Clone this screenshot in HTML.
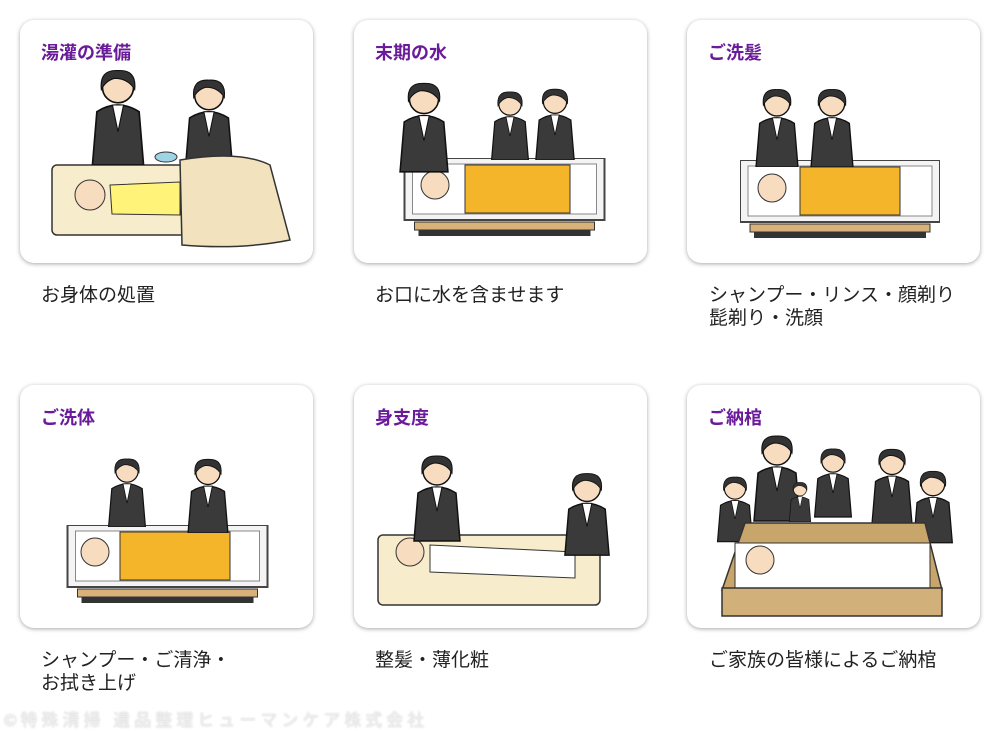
<!DOCTYPE html>
<html><head><meta charset="utf-8"><style>
body{margin:0;background:#fff;width:1000px;height:731px;overflow:hidden;position:relative;font-family:"Liberation Sans","Noto Sans CJK JP",sans-serif}
.card{position:absolute;width:293px;height:243px;border-radius:14px;background:#fff;box-shadow:0 1px 4px rgba(0,0,0,.35)}
.t{position:absolute;color:#6a1b9a;font-weight:bold;font-size:18px}
.c{position:absolute;color:#222;font-size:19px;line-height:23px}
svg{position:absolute;left:0;top:0}
</style></head><body>
<div class="card" style="left:20px;top:20px"></div>
<div class="card" style="left:354px;top:20px"></div>
<div class="card" style="left:687px;top:20px"></div>
<div class="card" style="left:20px;top:385px"></div>
<div class="card" style="left:354px;top:385px"></div>
<div class="card" style="left:687px;top:385px"></div>
<svg width="1000" height="731">
<defs>
<symbol id="p" viewBox="0 0 50 90">
<path d="M6 42 Q25 30 44 42 L48 90 L2 90 Z" fill="#3a3a3a" stroke="#111" stroke-width="1.5"/>
<path d="M20 36 L25 60 L30 36 Z" fill="#fff" stroke="#111"/>
<circle cx="25" cy="20" r="14" fill="#f8dcc0" stroke="#111" stroke-width="1.5"/>
<path d="M10 22 Q8 4 25 5 Q42 4 40 22 Q34 12 22 12 Q14 14 10 22Z" fill="#333" stroke="#111"/>
</symbol>
<symbol id="tub" viewBox="0 0 200 80">
<rect x="0" y="0" width="200" height="62" fill="#f4f4f4" stroke="#444" stroke-width="2"/>
<rect x="8" y="6" width="184" height="50" fill="#fff" stroke="#888"/>
<rect x="10" y="64" width="180" height="8" fill="#d9b27a" stroke="#333"/>
<rect x="14" y="72" width="172" height="6" fill="#333"/>
</symbol>
</defs>
<!-- card1 -->
<rect x="52" y="165" width="200" height="70" rx="5" fill="#f7edcc" stroke="#333" stroke-width="1.5"/>
<path d="M110 185 L180 182 L180 215 L112 214 Z" fill="#fff37a" stroke="#333"/>
<circle cx="90" cy="195" r="15" fill="#f8dcc0" stroke="#333"/>
<ellipse cx="166" cy="157" rx="11" ry="5" fill="#9fd3e6" stroke="#333"/>
<use href="#p" x="88" y="65" width="60" height="100"/>
<use href="#p" x="183" y="75" width="52" height="92"/>
<path d="M180 160 Q240 150 270 165 L290 240 Q240 250 182 245 Z" fill="#f2e2bd" stroke="#333" stroke-width="1.5"/>
<!-- card2 -->
<use href="#tub" x="403" y="158" width="203" height="80"/>
<rect x="465" y="165" width="105" height="48" fill="#f4b52a" stroke="#333"/>
<circle cx="435" cy="185" r="14" fill="#f8dcc0" stroke="#333"/>
<use href="#p" x="398" y="75" width="52" height="100"/>
<use href="#p" x="488" y="88" width="44" height="72"/>
<use href="#p" x="533" y="85" width="44" height="75"/>
<!-- card3 -->
<use href="#tub" x="740" y="160" width="200" height="80"/>
<rect x="800" y="167" width="100" height="48" fill="#f4b52a" stroke="#333"/>
<circle cx="772" cy="188" r="14" fill="#f8dcc0" stroke="#333"/>
<use href="#p" x="753" y="85" width="48" height="82"/>
<use href="#p" x="808" y="85" width="48" height="82"/>
<!-- card4 -->
<use href="#tub" x="65" y="525" width="205" height="80"/>
<rect x="120" y="532" width="110" height="48" fill="#f4b52a" stroke="#333"/>
<circle cx="95" cy="552" r="14" fill="#f8dcc0" stroke="#333"/>
<use href="#p" x="103" y="455" width="48" height="72"/>
<use href="#p" x="183" y="455" width="50" height="78"/>
<!-- card5 -->
<rect x="378" y="535" width="222" height="70" rx="5" fill="#f7edcc" stroke="#333" stroke-width="1.5"/>
<path d="M430 545 L575 552 L575 578 L430 572 Z" fill="#fff" stroke="#333"/>
<circle cx="410" cy="552" r="14" fill="#f8dcc0" stroke="#333"/>
<use href="#p" x="412" y="450" width="50" height="92"/>
<use href="#p" x="563" y="468" width="48" height="88"/>
<!-- card6 -->
<use href="#p" x="716" y="465" width="38" height="85"/>
<use href="#p" x="752" y="430" width="50" height="92"/>
<use href="#p" x="784" y="480" width="32" height="42"/>
<use href="#p" x="813" y="440" width="40" height="82"/>
<use href="#p" x="868" y="445" width="48" height="78"/>
<use href="#p" x="912" y="460" width="42" height="90"/>
<path d="M745 523 L925 523 L942 590 L722 590 Z" fill="#c8a56a" stroke="#333" stroke-width="1.5"/>
<rect x="735" y="543" width="195" height="45" fill="#fff" stroke="#333"/>
<circle cx="760" cy="560" r="14" fill="#f8dcc0" stroke="#333"/>
<rect x="722" y="588" width="220" height="28" fill="#d1b07a" stroke="#333" stroke-width="1.5"/>
</svg>
<div class="t" style="left:41px;top:39px">湯灌の準備</div>
<div class="t" style="left:375px;top:39px">末期の水</div>
<div class="t" style="left:708px;top:39px">ご洗髪</div>
<div class="t" style="left:41px;top:404px">ご洗体</div>
<div class="t" style="left:375px;top:404px">身支度</div>
<div class="t" style="left:708px;top:404px">ご納棺</div>
<div class="c" style="left:41px;top:284px">お身体の処置</div>
<div class="c" style="left:375px;top:284px">お口に水を含ませます</div>
<div class="c" style="left:709px;top:284px">シャンプー・リンス・顔剃り<br>髭剃り・洗顔</div>
<div class="c" style="left:41px;top:649px">シャンプー・ご清浄・<br>お拭き上げ</div>
<div class="c" style="left:375px;top:649px">整髪・薄化粧</div>
<div class="c" style="left:709px;top:649px">ご家族の皆様によるご納棺</div>
<div style="position:absolute;left:4px;top:706px;font-size:17px;color:#eee;letter-spacing:4px;text-shadow:0 0 2px #ccc">©特殊清掃 遺品整理ヒューマンケア株式会社</div>
</body></html>
